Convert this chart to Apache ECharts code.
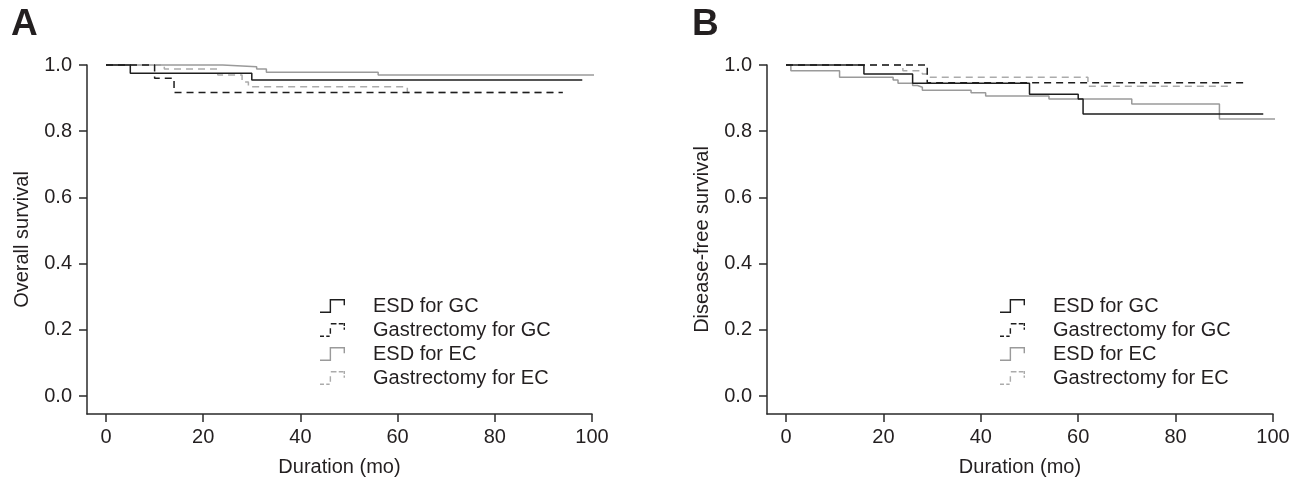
<!DOCTYPE html>
<html>
<head>
<meta charset="utf-8">
<script src="https://cdn.jsdelivr.net/npm/echarts@6/dist/echarts.min.js"></script>
<style>
html,body{margin:0;padding:0;background:#fff;}
#chart{width:1302px;height:485px;}
</style>
</head>
<body>
<div id="chart"></div>
<script>
// ---- Data ----
const seriesNames = ['ESD for GC', 'Gastrectomy for GC', 'ESD for EC', 'Gastrectomy for EC'];
const durationTicks = [0, 20, 40, 60, 80, 100];
const survivalTicks = [0.0, 0.2, 0.4, 0.6, 0.8, 1.0];

// Panel A: overall survival (time in months, survival after each step)
const osEsdGcT  = [0, 5, 30, 98];
const osEsdGcS  = [1, 0.975, 0.955, 0.955];
const osGastGcT = [0, 10, 14, 94];
const osGastGcS = [1, 0.96, 0.917, 0.917];
const osEsdEcT  = [0, 24, 31, 33, 56, 103];
const osEsdEcS  = [1, 0.995, 0.988, 0.978, 0.97, 0.97];
const osGastEcT = [0, 12, 23, 28, 29.3, 62, 92];
const osGastEcS = [1, 0.988, 0.97, 0.949, 0.934, 0.917, 0.917];

// Panel B: disease-free survival
const dfsEsdGcT  = [0, 16, 26, 50, 60, 61, 98];
const dfsEsdGcS  = [1, 0.973, 0.945, 0.912, 0.897, 0.852, 0.852];
const dfsGastGcT = [0, 29, 94];
const dfsGastGcS = [1, 0.946, 0.946];
const dfsEsdEcT  = [0, 1, 11, 22, 23, 26, 27, 28, 38, 41, 54, 71, 89, 103];
const dfsEsdEcS  = [1, 0.983, 0.963, 0.955, 0.945, 0.938, 0.933, 0.924, 0.916, 0.906, 0.897, 0.882, 0.837, 0.837];
const dfsGastEcT = [0, 24, 28, 29, 62, 91];
const dfsGastEcS = [1, 0.983, 0.973, 0.963, 0.936, 0.936];

// ---- Styling ----
const FONT = 'Liberation Sans, Arial, Helvetica, sans-serif';
const TXT = '#231f20';
const AXC = '#2a2a2a';
const styles = [
  { color: '#1e1e1e', type: 'solid' },
  { color: '#1e1e1e', type: [7, 5] },
  { color: '#9a9a9a', type: 'solid' },
  { color: '#ababab', type: [7, 5] }
];

const solidIcon = 'path://M0,22 L17,22 L17,0 L44,0 L44,11 L41.5,11 L41.5,2.5 L19.5,2.5 L19.5,24.5 L0,24.5 Z';
const dashIcon = 'path://M0,22 L7,22 L7,24.5 L0,24.5 Z M11,22 L17,22 L17,24.5 L11,24.5 Z M17,9 L19.5,9 L19.5,19 L17,19 Z M19,0 L29,0 L29,2.5 L19,2.5 Z M33,0 L41,0 L41,2.5 L33,2.5 Z M41.5,0 L44,0 L44,5 L41.5,5 Z M41.5,8 L44,8 L44,12 L41.5,12 Z';

function pairs(t, s) { return t.map((v, i) => [v, s[i]]); }

function frameAxes(idx, xName, yName) {
  return {
    x: {
      type: 'value', gridIndex: idx, min: 0, max: 1,
      axisLine: { show: true, onZero: false, lineStyle: { color: AXC, width: 1.5 } },
      axisTick: { show: false }, axisLabel: { show: false }, splitLine: { show: false },
      name: xName, nameLocation: 'middle', nameGap: 43,
      nameTextStyle: { fontFamily: FONT, fontSize: 20, color: TXT }
    },
    y: {
      type: 'value', gridIndex: idx, min: 0, max: 1,
      axisLine: { show: true, onZero: false, lineStyle: { color: AXC, width: 1.5 } },
      axisTick: { show: false }, axisLabel: { show: false }, splitLine: { show: false },
      name: yName, nameLocation: 'middle', nameGap: 55,
      nameTextStyle: { fontFamily: FONT, fontSize: 20, color: TXT }
    }
  };
}

function dataAxes(idx) {
  const dStep = durationTicks[1] - durationTicks[0];
  const sStep = survivalTicks[1] - survivalTicks[0];
  return {
    x: {
      type: 'value', gridIndex: idx,
      min: durationTicks[0], max: durationTicks[durationTicks.length - 1], interval: dStep,
      offset: 18, position: 'bottom',
      axisLine: { show: false, onZero: false },
      axisTick: { show: true, length: 8, lineStyle: { color: AXC, width: 1.5 } },
      axisLabel: { margin: 13, fontFamily: FONT, fontSize: 20, color: TXT },
      splitLine: { show: false }
    },
    y: {
      type: 'value', gridIndex: idx,
      min: survivalTicks[0], max: survivalTicks[survivalTicks.length - 1], interval: sStep,
      offset: 19, position: 'left',
      axisLine: { show: false, onZero: false },
      axisTick: { show: true, length: 8, lineStyle: { color: AXC, width: 1.5 } },
      axisLabel: { margin: 15, fontFamily: FONT, fontSize: 20, color: TXT,
                   formatter: v => v.toFixed(1) },
      splitLine: { show: false }
    }
  };
}

const fA = frameAxes(0, 'Duration (mo)', 'Overall survival');
const dA = dataAxes(1);
const fB = frameAxes(2, 'Duration (mo)', 'Disease-free survival');
const dB = dataAxes(3);

function mkSeries(name, i, data, axisIdx) {
  return {
    name: name, type: 'line', step: 'end', data: data,
    xAxisIndex: axisIdx, yAxisIndex: axisIdx,
    showSymbol: false, symbol: 'none', clip: false,
    color: styles[i].color,
    lineStyle: { color: styles[i].color, width: 1.5, type: styles[i].type },
    z: 10 - i
  };
}

const seriesA = [
  mkSeries(seriesNames[0], 0, pairs(osEsdGcT, osEsdGcS), 1),
  mkSeries(seriesNames[1], 1, pairs(osGastGcT, osGastGcS), 1),
  mkSeries(seriesNames[2], 2, pairs(osEsdEcT, osEsdEcS), 1),
  mkSeries(seriesNames[3], 3, pairs(osGastEcT, osGastEcS), 1)
];
const seriesB = [
  mkSeries(seriesNames[0], 0, pairs(dfsEsdGcT, dfsEsdGcS), 3),
  mkSeries(seriesNames[1], 1, pairs(dfsGastGcT, dfsGastGcS), 3),
  mkSeries(seriesNames[2], 2, pairs(dfsEsdEcT, dfsEsdEcS), 3),
  mkSeries(seriesNames[3], 3, pairs(dfsGastEcT, dfsGastEcS), 3)
];

function mkLegend(left) {
  return {
    orient: 'vertical', left: left, top: 296,
    itemWidth: 25, itemHeight: 14, itemGap: 4, padding: 0,
    selectedMode: false,
    itemStyle: { borderWidth: 0 },
    data: seriesNames.map((n, i) => ({ name: n, icon: (i % 2 === 0) ? solidIcon : dashIcon })),
    formatter: name => '{s| }' + name,
    textStyle: {
      fontFamily: FONT, fontSize: 20, color: TXT, lineHeight: 20,
      rich: { s: { width: 23, lineHeight: 20, fontSize: 20 } }
    }
  };
}

const option = {
  animation: false,
  backgroundColor: '#fff',
  title: [
    { text: 'A', left: 11, top: 6, padding: 0,
      textStyle: { fontFamily: FONT, fontSize: 37, fontWeight: 'bold', color: TXT } },
    { text: 'B', left: 692, top: 6, padding: 0,
      textStyle: { fontFamily: FONT, fontSize: 37, fontWeight: 'bold', color: TXT } }
  ],
  legend: [mkLegend(320), mkLegend(1000)],
  grid: [
    { left: 87, top: 65, width: 505, height: 349 },
    { left: 106, top: 65, width: 486, height: 331 },
    { left: 767, top: 65, width: 506, height: 349 },
    { left: 786, top: 65, width: 487, height: 331 }
  ],
  xAxis: [fA.x, dA.x, fB.x, dB.x],
  yAxis: [fA.y, dA.y, fB.y, dB.y],
  series: seriesA.concat(seriesB)
};

const chart = echarts.init(document.getElementById('chart'), null, { renderer: 'canvas' });
chart.setOption(option);
</script>
</body>
</html>
